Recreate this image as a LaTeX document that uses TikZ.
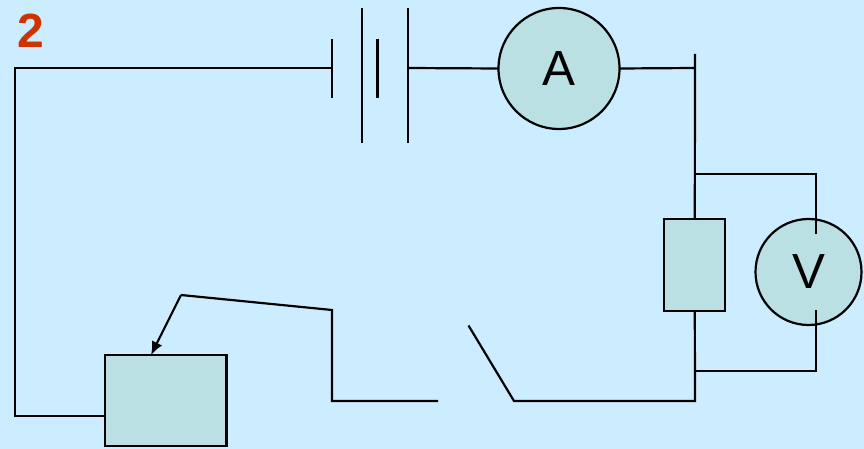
\documentclass[tikz,border=0pt]{standalone}
\usepackage{fontspec}
\setmainfont{Liberation Sans}
\usetikzlibrary{calc, positioning, arrows.meta}
\definecolor{bgblue}{RGB}{204,236,255}
\definecolor{partfill}{RGB}{187,224,227}
\definecolor{numred}{RGB}{204,51,0}
\tikzset{
  wire/.style={black,line width=1.65pt,line cap=butt,line join=miter},
  part/.style={draw=black,fill=partfill,line width=1.65pt,inner sep=0pt,outer sep=0pt},
  meter/.style={part,circle,font=\fontsize{37}{37}\selectfont},
}
\begin{document}
\begin{tikzpicture}[x=0.75pt,y=-0.75pt]
\fill[bgblue] (0,0) rectangle (864,449);
\useasboundingbox (0,0) rectangle (864,449);

\node[text=numred,font=\fontsize{36}{36}\selectfont\bfseries,inner sep=0pt] (num) at (31,31) {2};

\node[meter,minimum size=90.75pt] (ammeter) at (559,68.5) {A};
\node[meter,minimum size=79.5pt] (voltmeter) at (808.5,272) {V};
\node[part,minimum width=45.75pt,minimum height=68.6pt] (resistor) at (694.8,264.9) {};
\node[part,minimum width=91pt,minimum height=68.25pt] (rheostat) at (165.75,400.7) {};

% battery
\coordinate (cellatop) at (332,39);
\coordinate (cellabot) at (332,98.5);
\coordinate (cellbtop) at (362,8);
\coordinate (cellbbot) at (362,143.5);
\coordinate (cellctop) at (377.5,39);
\coordinate (cellcbot) at (377.5,98.5);
\coordinate (celldtop) at (408,8);
\coordinate (celldbot) at (408,143.5);
\draw[wire] (cellatop) -- (cellabot);
\draw[wire] (cellbtop) -- (cellbbot);
\draw[wire] (cellctop) -- (cellcbot);
\draw[wire] (celldtop) -- (celldbot);

% left side
\coordinate (corner) at (15,68);
\coordinate (cornerb) at (15,416);
\coordinate (cella) at (332,68);
\coordinate (celld) at (408,68);
\draw[wire] (cella) -- (corner) -- (cornerb) -- (cornerb -| rheostat.west);
\draw[wire] (celld) -- (ammeter.west);

% right side
\coordinate (railtop) at (695,54);
\coordinate (railammeter) at (695,68);
\coordinate (railv) at (695,174);
\coordinate (vtop) at (816,174);
\coordinate (vtopend) at (816,234);
\coordinate (vbotend) at (816,310);
\coordinate (vbot) at (816,371);
\coordinate (railvb) at (695,371);
\coordinate (railbot) at (695,401);
\draw[wire] (ammeter.east) -- (railammeter);
\draw[wire] (railtop) -- (resistor.north);
\draw[wire] (railv) -- (vtop) -- (vtopend);
\draw[wire] (vbotend) -- (vbot) -- (railvb);

% switch and slider
\coordinate (swhinge) at (514,401);
\coordinate (swblade) at (468.5,325.5);
\coordinate (swopen) at (438,401);
\coordinate (lead) at (332,401);
\coordinate (leadtop) at (332,310);
\coordinate (slider) at (181,295);
\coordinate (sliderend) at (151,355);
\draw[wire] (resistor.south) -- (railbot) -- (swhinge) -- (swblade);
\draw[wire] (swopen) -- (lead) -- (leadtop) -- (slider);
\draw[wire,-{Latex[length=10pt,width=8.5pt]}] (slider) -- (sliderend);
\end{tikzpicture}
\end{document}
